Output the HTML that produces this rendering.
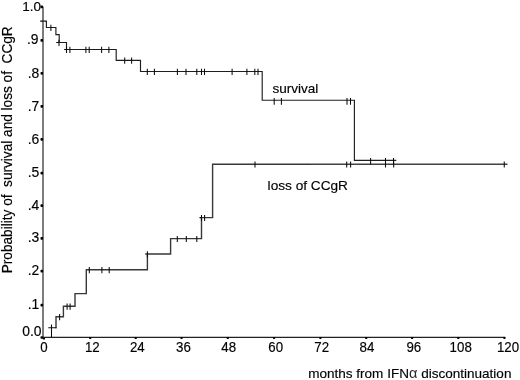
<!DOCTYPE html>
<html><head><meta charset="utf-8"><title>Kaplan-Meier</title>
<style>html,body{margin:0;padding:0;background:#fff}svg{display:block}</style></head>
<body>
<svg width="520" height="380" viewBox="0 0 520 380">
<rect width="520" height="380" fill="#fff"/>
<path d="M43,7V337.2" fill="none" stroke="#666" stroke-width="1.7"/>
<path d="M42.2,337.35H505.3" fill="none" stroke="#222" stroke-width="1.05"/>
<rect x="40.5" y="336.15" width="2.6" height="2.7" rx="0.8" fill="#000"/>
<rect x="40.5" y="303.85" width="2.6" height="2.7" rx="0.8" fill="#000"/>
<rect x="40.5" y="269.85" width="2.6" height="2.7" rx="0.8" fill="#000"/>
<rect x="40.5" y="237.05" width="2.6" height="2.7" rx="0.8" fill="#000"/>
<rect x="40.5" y="204.35" width="2.6" height="2.7" rx="0.8" fill="#000"/>
<rect x="40.5" y="171.85" width="2.6" height="2.7" rx="0.8" fill="#000"/>
<rect x="40.5" y="138.05" width="2.6" height="2.7" rx="0.8" fill="#000"/>
<rect x="40.5" y="105.05" width="2.6" height="2.7" rx="0.8" fill="#000"/>
<rect x="40.5" y="71.95" width="2.6" height="2.7" rx="0.8" fill="#000"/>
<rect x="40.5" y="39.05" width="2.6" height="2.7" rx="0.8" fill="#000"/>
<rect x="40.5" y="5.45" width="2.6" height="2.7" rx="0.8" fill="#000"/>
<rect x="42.7" y="337.6" width="2.3" height="2.0" rx="0.7" fill="#000"/>
<rect x="89.05" y="337.1" width="2.3" height="1.9" rx="0.7" fill="#000"/>
<rect x="134.55" y="337.1" width="2.3" height="1.9" rx="0.7" fill="#000"/>
<rect x="180.35" y="337.1" width="2.3" height="1.9" rx="0.7" fill="#000"/>
<rect x="226.65" y="337.1" width="2.3" height="1.9" rx="0.7" fill="#000"/>
<rect x="272.95" y="337.1" width="2.3" height="1.9" rx="0.7" fill="#000"/>
<rect x="319.25" y="337.1" width="2.3" height="1.9" rx="0.7" fill="#000"/>
<rect x="365.05" y="337.1" width="2.3" height="1.9" rx="0.7" fill="#000"/>
<rect x="410.95" y="337.1" width="2.3" height="1.9" rx="0.7" fill="#000"/>
<rect x="457.15" y="337.1" width="2.3" height="1.9" rx="0.7" fill="#000"/>
<rect x="503.25" y="337.1" width="2.3" height="1.9" rx="0.7" fill="#000"/>
<path d="M43,21.1 H46.4 V27.5 H55.9 V34.6 H59.2 V42.5 H66.5 V49.5 H116.2 V60.3 H140.5 V71.5 H262.2 V100.2 H354.4 V160.3 H396.3" fill="none" stroke="#1e1e1e" stroke-width="1.15"/>
<path d="M56,328.2 V316.8 H63.4 V306.3 H75 V293.6 H86.3 V269.8 H147.4 V254 H170.6 V238.6 H201.5 V217.6 H212.6 V164.2 H311" fill="none" stroke="#383838" stroke-width="1.4"/>
<path d="M311,164.2H507.5" fill="none" stroke="#424242" stroke-width="1.35"/>
<path d="M50.9,24.8V30.9M59,39.8V45.9M66.5,46.8V52.9M69.9,46.8V52.9M85.9,46.8V52.9M89.2,46.8V52.9M101.6,46.8V52.9M108.9,46.8V52.9M124.7,57.6V63.7M131.6,57.6V63.7M147.3,68.8V74.9M154.4,68.8V74.9M177.4,68.8V74.9M186,68.8V74.9M196.8,68.8V74.9M201.5,68.8V74.9M204.5,68.8V74.9M232.1,68.8V74.9M246.9,68.8V74.9M254.8,68.8V74.9M258,68.8V74.9M274.2,98.0V104.7M281.4,98.0V104.7M347,98.0V104.7M350.5,98.0V104.7M370.6,157.9V164.6M385.5,157.9V164.6M393.5,157.9V164.6M59.6,314.1V320.2M67.1,303.6V309.7M70.1,303.6V309.7M89.3,267.1V273.2M101.9,267.1V273.2M109.2,267.1V273.2M147.4,251.3V257.4M177.3,235.9V242.0M186.3,235.9V242.0M196.8,235.9V242.0M201.5,214.9V221.0M204.6,214.9V221.0M255,161.5V167.6M346.7,161.5V167.6M350.6,161.5V167.6M385.5,161.5V167.6M393.7,161.5V167.6M504.25,161.5V167.6M40.2,21.1H43M48.3,327.7H56.5M51.5,324.5V337.3M199.5,217.6H202M64.1,49.5H67M56.2,42.5H59.5M145,254H148" fill="none" stroke="#0c0c0c" stroke-width="1.05"/>
<g font-family="'Liberation Sans', sans-serif" font-size="13" fill="#000" stroke="#000" stroke-width="0.15">
<text x="41.6" y="335.8" font-size="13.9" text-anchor="end">0.0</text>
<text x="39.3" y="309.0" font-size="13.9" text-anchor="end">.1</text>
<text x="39.3" y="275.0" font-size="13.9" text-anchor="end">.2</text>
<text x="39.3" y="242.2" font-size="13.9" text-anchor="end">.3</text>
<text x="39.3" y="209.5" font-size="13.9" text-anchor="end">.4</text>
<text x="39.3" y="177.0" font-size="13.9" text-anchor="end">.5</text>
<text x="39.3" y="143.7" font-size="13.9" text-anchor="end">.6</text>
<text x="39.3" y="110.7" font-size="13.9" text-anchor="end">.7</text>
<text x="39.3" y="77.6" font-size="13.9" text-anchor="end">.8</text>
<text x="38.6" y="44.4" font-size="13.9" text-anchor="end">.9</text>
<text x="41.0" y="11.1" font-size="13.5" text-anchor="end">1.0</text>
<text transform="translate(44.05,351.8) scale(1,1.06)" font-size="13.3" text-anchor="middle">0</text>
<text transform="translate(92.30,351.8) scale(1,1.06)" font-size="13.3" text-anchor="middle">12</text>
<text transform="translate(137.30,351.8) scale(1,1.06)" font-size="13.3" text-anchor="middle">24</text>
<text transform="translate(183.45,351.8) scale(1,1.06)" font-size="13.3" text-anchor="middle">36</text>
<text transform="translate(228.75,351.8) scale(1,1.06)" font-size="13.3" text-anchor="middle">48</text>
<text transform="translate(275.70,351.8) scale(1,1.06)" font-size="13.3" text-anchor="middle">60</text>
<text transform="translate(321.75,351.8) scale(1,1.06)" font-size="13.3" text-anchor="middle">72</text>
<text transform="translate(367.00,351.8) scale(1,1.06)" font-size="13.3" text-anchor="middle">84</text>
<text transform="translate(413.85,351.8) scale(1,1.06)" font-size="13.3" text-anchor="middle">96</text>
<text transform="translate(460.70,351.8) scale(1,1.06)" font-size="13.3" text-anchor="middle">108</text>
<text transform="translate(508.05,351.8) scale(1,1.06)" font-size="13.3" text-anchor="middle">120</text>
<text transform="translate(272.4,92.9) scale(1,1)" font-size="13.55">survival</text>
<text transform="translate(267.6,190) scale(1,1)" font-size="13.65">loss of CCgR</text>
<text transform="translate(308.2,378.1) scale(1,0.97)" font-size="13.55">months from IFN<tspan font-size="14.6" stroke="none" fill="#2a2a2a">α</tspan> discontinuation</text>
<text transform="translate(12.1,273.3) rotate(-90) scale(1,1.1)" font-size="13.65" xml:space="preserve" style="white-space:pre">Probability of  survival and loss of  CCgR</text>
</g></svg>
</body></html>
